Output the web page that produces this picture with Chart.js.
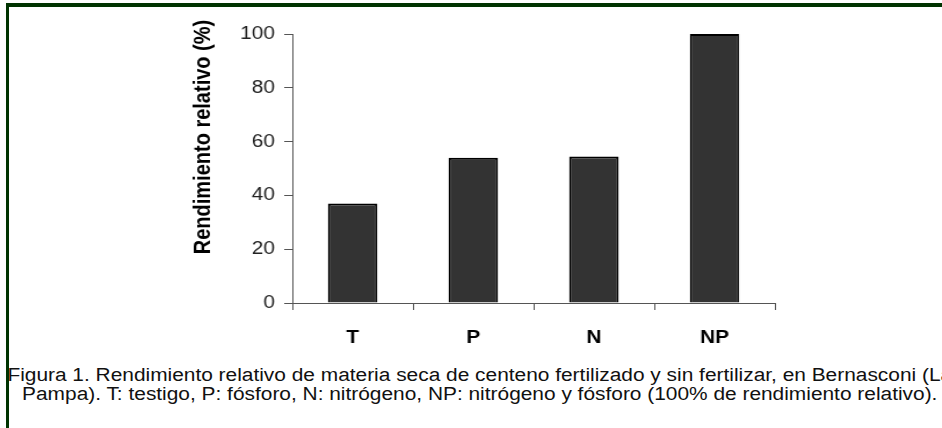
<!DOCTYPE html>
<html>
<head>
  <meta charset="UTF-8">
  <title>Rendimiento relativo</title>
  <script src="https://cdn.jsdelivr.net/npm/chart.js"></script>
  <style>
    html, body { margin: 0; padding: 0; background: #fff; }
    #frame { position: relative; width: 942px; height: 428px; overflow: hidden; background: #fff; }
    .edge { position: absolute; background: #003300; z-index: 2; }
    #top-edge { left: 6px; top: 3px; width: 936px; height: 4px; }
    #left-edge { left: 6px; top: 3px; width: 3px; height: 425px; }
    /* la figura original esta estirada en horizontal */
    #chart-container {
      position: absolute; left: 0; top: 0; width: 812px; height: 360px;
      transform: scaleX(1.16); transform-origin: 0 0;
    }
    #caption {
      position: absolute; left: 3px; top: 366px; width: 822px;
      transform: scaleX(1.16); transform-origin: 0 0;
      font-family: "Liberation Sans", Arial, sans-serif; font-size: 18px; line-height: 19px;
      text-align: center; white-space: nowrap; color: #111;
    }
  </style>
</head>
<body>
  <div id="frame">
    <div id="chart-container"><canvas id="graphCanvas"></canvas></div>
    <div id="caption">Figura 1. Rendimiento relativo de materia seca de centeno fertilizado y sin fertilizar, en Bernasconi (La<br>Pampa). T: testigo, P: fósforo, N: nitrógeno, NP: nitrógeno y fósforo (100% de rendimiento relativo).</div>
    <div class="edge" id="top-edge"></div>
    <div class="edge" id="left-edge"></div>
  </div>

  <script>
    // datos
    const tratamientos = ['T', 'P', 'N', 'NP'];
    const rendimiento = [37, 54, 54.5, 100];
    const yTicks = [0, 20, 40, 60, 80, 100];
    const yTitulo = 'Rendimiento relativo (%)';

    // titulo del eje Y dibujado a mano (en el original no esta centrado)
    const yTitlePlugin = {
      id: 'yTitle',
      afterDraw(chart) {
        const ctx = chart.ctx;
        const ys = chart.scales.y;
        ctx.save();
        ctx.translate(ys.left + 23, ys.getPixelForValue(61.7));
        ctx.rotate(-Math.PI / 2);
        ctx.font = 'bold 20px "Liberation Sans", Arial, sans-serif';
        ctx.fillStyle = '#000';
        ctx.textAlign = 'center';
        ctx.textBaseline = 'middle';
        ctx.fillText(yTitulo, 0, 0);
        ctx.restore();
      }
    };

    new Chart(document.getElementById('graphCanvas'), {
      type: 'bar',
      data: {
        labels: tratamientos,
        datasets: [{
          data: rendimiento,
          backgroundColor: '#333333',
          borderColor: '#000000',
          borderWidth: 2,
          categoryPercentage: 1,
          barPercentage: 0.41
        }]
      },
      options: {
        responsive: true,
        maintainAspectRatio: false,
        animation: false,
        layout: { padding: { left: 152, right: 144, top: 34, bottom: 7 } },
        plugins: { legend: { display: false }, tooltip: { enabled: false } },
        scales: {
          x: {
            afterFit(scale) { scale.height = 50; },
            grid: { offset: true, drawOnChartArea: false, tickLength: 7, color: '#555' },
            border: { color: '#555', width: 1 },
            ticks: {
              color: '#000', padding: 17,
              font: { family: '"Liberation Sans", Arial, sans-serif', size: 18, weight: 'bold' }
            }
          },
          y: {
            min: 0, max: 100,
            afterFit(scale) { scale.width = 100; },
            afterBuildTicks(scale) { scale.ticks = yTicks.map(v => ({ value: v })); },
            grid: { drawOnChartArea: false, tickLength: 7, color: '#555' },
            border: { color: '#555', width: 1 },
            ticks: {
              color: '#222', padding: 8,
              font: { family: '"Liberation Sans", Arial, sans-serif', size: 18 }
            }
          }
        }
      },
      plugins: [yTitlePlugin]
    });
  </script>
</body>
</html>
